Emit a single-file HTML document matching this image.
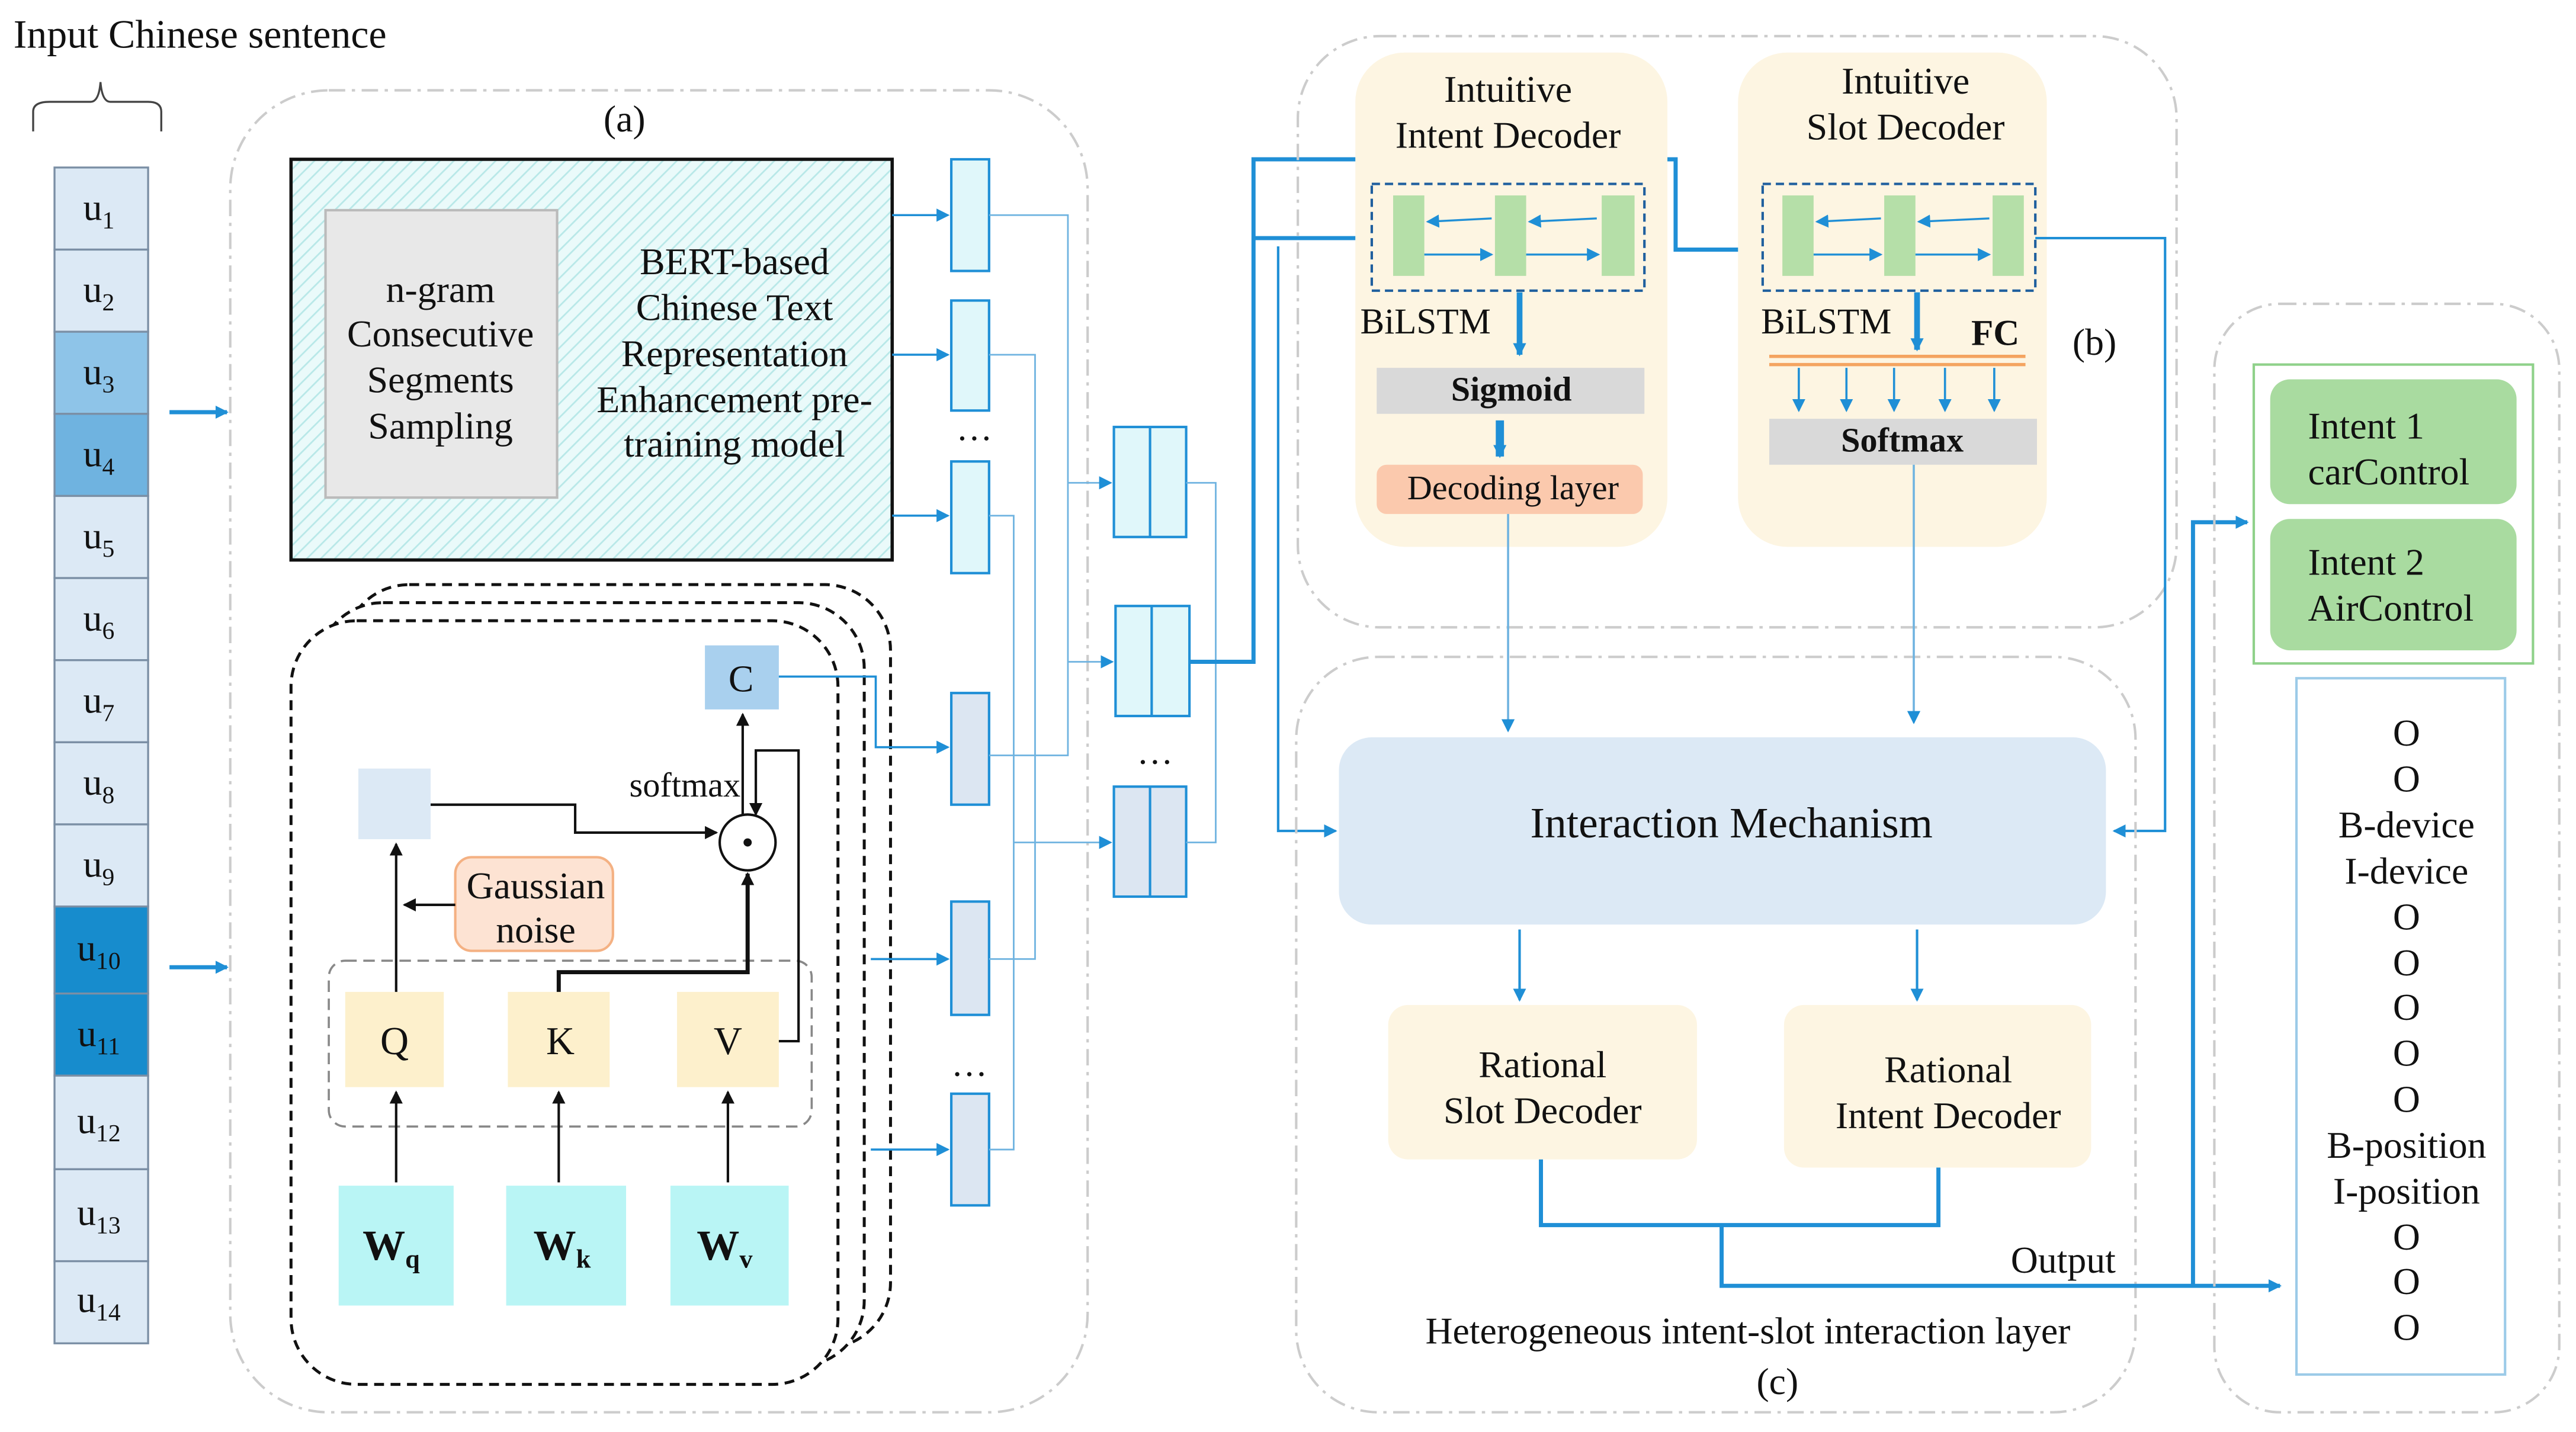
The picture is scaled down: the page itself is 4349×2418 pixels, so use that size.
<!DOCTYPE html>
<html><head><meta charset="utf-8"><style>
html,body{margin:0;padding:0;background:#fff}
svg{display:block}
text{font-family:"Liberation Serif",serif;fill:#111}
</style></head><body>
<svg width="4349" height="2418" viewBox="0 0 1568 872" xmlns="http://www.w3.org/2000/svg">
<defs>
<marker id="ab" markerWidth="8" markerHeight="8" refX="7" refY="4" orient="auto" markerUnits="userSpaceOnUse"><path d="M0,0 L8,4 L0,8 z" fill="#1f8fd6"/></marker>
<marker id="ak" markerWidth="8" markerHeight="8" refX="7" refY="4" orient="auto" markerUnits="userSpaceOnUse"><path d="M0,0 L8,4 L0,8 z" fill="#111"/></marker>
<pattern id="hatch" width="6" height="6" patternUnits="userSpaceOnUse" patternTransform="rotate(45)"><rect width="6" height="6" fill="#eafafa"/><line x1="0" y1="0" x2="0" y2="6" stroke="#b8e8e8" stroke-width="2"/></pattern>
</defs>
<rect width="1568" height="872" fill="#fff"/>

<text x="8" y="29" font-size="24.5">Input Chinese sentence</text>
<path d="M20,80 L20,68 Q20,62 30,62 L55,62 Q60,62 61,50 Q62,62 67,62 L90,62 Q98,62 98,68 L98,80" fill="none" stroke="#444" stroke-width="1.2"/>
<g stroke="#7b8fa5" stroke-width="1.2">
<rect x="33" y="102" width="57" height="50" fill="#dce9f5"/>
<rect x="33" y="152" width="57" height="50" fill="#dce9f5"/>
<rect x="33" y="202" width="57" height="50" fill="#8ec4e8"/>
<rect x="33" y="252" width="57" height="50" fill="#6fb3e0"/>
<rect x="33" y="302" width="57" height="50" fill="#dce9f5"/>
<rect x="33" y="352" width="57" height="50" fill="#dce9f5"/>
<rect x="33" y="402" width="57" height="50" fill="#dce9f5"/>
<rect x="33" y="452" width="57" height="50" fill="#dce9f5"/>
<rect x="33" y="502" width="57" height="50" fill="#dce9f5"/>
<rect x="33" y="552" width="57" height="53" fill="#178ccd"/>
<rect x="33" y="605" width="57" height="50" fill="#178ccd"/>
<rect x="33" y="655" width="57" height="57" fill="#dce9f5"/>
<rect x="33" y="712" width="57" height="56" fill="#dce9f5"/>
<rect x="33" y="768" width="57" height="50" fill="#dce9f5"/>
</g>
<g font-size="23" text-anchor="middle">
<text x="60" y="134">u<tspan font-size="15" dy="5">1</tspan></text>
<text x="60" y="184">u<tspan font-size="15" dy="5">2</tspan></text>
<text x="60" y="234">u<tspan font-size="15" dy="5">3</tspan></text>
<text x="60" y="284">u<tspan font-size="15" dy="5">4</tspan></text>
<text x="60" y="334">u<tspan font-size="15" dy="5">5</tspan></text>
<text x="60" y="384">u<tspan font-size="15" dy="5">6</tspan></text>
<text x="60" y="434">u<tspan font-size="15" dy="5">7</tspan></text>
<text x="60" y="484">u<tspan font-size="15" dy="5">8</tspan></text>
<text x="60" y="534">u<tspan font-size="15" dy="5">9</tspan></text>
<text x="60" y="585">u<tspan font-size="15" dy="5">10</tspan></text>
<text x="60" y="637">u<tspan font-size="15" dy="5">11</tspan></text>
<text x="60" y="690">u<tspan font-size="15" dy="5">12</tspan></text>
<text x="60" y="746">u<tspan font-size="15" dy="5">13</tspan></text>
<text x="60" y="799">u<tspan font-size="15" dy="5">14</tspan></text>
</g>
<line x1="103" y1="251" x2="138" y2="251" stroke="#1f8fd6" stroke-width="2.5" marker-end="url(#ab)"/>
<line x1="103" y1="589" x2="138" y2="589" stroke="#1f8fd6" stroke-width="2.5" marker-end="url(#ab)"/>

<rect x="140" y="55" width="522" height="805" rx="60" fill="none" stroke="#ccc" stroke-width="1.5" stroke-dasharray="10,4,2,4"/>
<text x="380" y="80" font-size="23" text-anchor="middle">(a)</text>
<rect x="177" y="97" width="366" height="244" fill="url(#hatch)" stroke="#111" stroke-width="2"/>
<rect x="198" y="128" width="141" height="175" fill="#e8e8e8" stroke="#bbb" stroke-width="1.5"/>
<g font-size="23" text-anchor="middle">
<text x="268" y="184">n-gram</text><text x="268" y="211">Consecutive</text><text x="268" y="239">Segments</text><text x="268" y="267">Sampling</text>
<text x="447" y="167">BERT-based</text><text x="447" y="195">Chinese Text</text><text x="447" y="223">Representation</text><text x="447" y="251">Enhancement pre-</text><text x="447" y="278">training model</text>
</g>
<rect x="209" y="356" width="333" height="465" rx="40" fill="#fff" stroke="#111" stroke-width="1.8" stroke-dasharray="6,4"/>
<rect x="193" y="367" width="333" height="465" rx="40" fill="#fff" stroke="#111" stroke-width="1.8" stroke-dasharray="6,4"/>
<rect x="177" y="378" width="333" height="465" rx="40" fill="#fff" stroke="#111" stroke-width="1.8" stroke-dasharray="6,4"/>
<rect x="200" y="585" width="294" height="101" rx="10" fill="none" stroke="#888" stroke-width="1.3" stroke-dasharray="7,4"/>
<rect x="429" y="393" width="45" height="39" fill="#a9d0ee"/>
<text x="451" y="421" font-size="23" text-anchor="middle">C</text>
<rect x="218" y="468" width="44" height="43" fill="#dce9f5"/>
<text x="383" y="485" font-size="21">softmax</text>
<circle cx="455" cy="513" r="17" fill="#fff" stroke="#111" stroke-width="1.5"/>
<circle cx="455" cy="513" r="2.5" fill="#111"/>
<rect x="277" y="522" width="96" height="57" rx="10" fill="#fde3d3" stroke="#f4b183" stroke-width="1.5"/>
<text x="326" y="547" font-size="23" text-anchor="middle">Gaussian</text>
<text x="326" y="574" font-size="23" text-anchor="middle">noise</text>
<rect x="210" y="604" width="60" height="58" fill="#fdf0cc"/>
<rect x="309" y="604" width="62" height="58" fill="#fdf0cc"/>
<rect x="412" y="604" width="62" height="58" fill="#fdf0cc"/>
<g font-size="24" text-anchor="middle"><text x="240" y="642">Q</text><text x="341" y="642">K</text><text x="443" y="642">V</text></g>
<rect x="206" y="722" width="70" height="73" fill="#b9f5f5"/>
<rect x="308" y="722" width="73" height="73" fill="#b9f5f5"/>
<rect x="408" y="722" width="72" height="73" fill="#b9f5f5"/>
<g font-size="26" font-weight="bold" text-anchor="middle"><text x="238" y="767">W<tspan font-size="16" dy="5">q</tspan></text><text x="342" y="767">W<tspan font-size="16" dy="5">k</tspan></text><text x="441" y="767">W<tspan font-size="16" dy="5">v</tspan></text></g>
<g stroke="#111" stroke-width="1.5" fill="none">
<line x1="241" y1="720" x2="241" y2="665" marker-end="url(#ak)"/>
<line x1="340" y1="720" x2="340" y2="665" marker-end="url(#ak)"/>
<line x1="443" y1="720" x2="443" y2="665" marker-end="url(#ak)"/>
<line x1="241" y1="604" x2="241" y2="514" marker-end="url(#ak)"/>
<line x1="277" y1="551" x2="246" y2="551" marker-end="url(#ak)"/>
<polyline points="262,490 350,490 350,507 436,507" marker-end="url(#ak)"/>
<polyline points="340,604 340,592 455,592 455,532" stroke-width="2.5" marker-end="url(#ak)"/>
<polyline points="474,634 486,634 486,457 460,457 460,496" marker-end="url(#ak)"/>
<line x1="452" y1="496" x2="452" y2="435" marker-end="url(#ak)"/>
</g>

<g stroke="#1f8fd6" stroke-width="1.5">
<rect x="579" y="97" width="23" height="68" fill="#e0f7fa"/>
<rect x="579" y="183" width="23" height="67" fill="#e0f7fa"/>
<rect x="579" y="281" width="23" height="68" fill="#e0f7fa"/>
<rect x="579" y="422" width="23" height="68" fill="#dce6f2"/>
<rect x="579" y="549" width="23" height="69" fill="#dce6f2"/>
<rect x="579" y="666" width="23" height="68" fill="#dce6f2"/>
<rect x="678" y="260" width="44" height="67" fill="#e0f7fa"/><line x1="700" y1="260" x2="700" y2="327"/>
<rect x="679" y="369" width="45" height="67" fill="#e0f7fa"/><line x1="701" y1="369" x2="701" y2="436"/>
<rect x="678" y="479" width="44" height="67" fill="#dce6f2"/><line x1="700" y1="479" x2="700" y2="546"/>
</g>
<text x="593" y="268" font-size="22" text-anchor="middle">…</text>
<text x="590" y="655" font-size="22" text-anchor="middle">…</text>
<text x="703" y="465" font-size="22" text-anchor="middle">…</text>
<g stroke="#1f8fd6" stroke-width="1.3" fill="none">
<line x1="543" y1="131" x2="577" y2="131" marker-end="url(#ab)"/>
<line x1="543" y1="216" x2="577" y2="216" marker-end="url(#ab)"/>
<line x1="543" y1="314" x2="577" y2="314" marker-end="url(#ab)"/>
<polyline points="474,412 533,412 533,455 577,455" marker-end="url(#ab)"/>
<line x1="530" y1="584" x2="577" y2="584" marker-end="url(#ab)"/>
<line x1="530" y1="700" x2="577" y2="700" marker-end="url(#ab)"/>
</g>
<g stroke="#6fb3e0" stroke-width="1" fill="none">
<polyline points="602,131 650,131 650,460 602,460"/>
<polyline points="602,216 630,216 630,584 602,584"/>
<polyline points="602,314 617,314 617,700 602,700"/>
<line x1="650" y1="294" x2="676" y2="294" marker-end="url(#ab)"/>
<line x1="650" y1="403" x2="677" y2="403" marker-end="url(#ab)"/>
<line x1="617" y1="513" x2="676" y2="513" marker-end="url(#ab)"/>
<polyline points="722,294 740,294 740,513 722,513"/>
</g>
<g stroke="#1f8fd6" stroke-width="2.5" fill="none">
<polyline points="724,403 763,403 763,97 1020,97 1020,152 1066,152" marker-end="url(#ab)"/>
<line x1="763" y1="145" x2="833" y2="145" marker-end="url(#ab)"/>
</g>
<polyline points="778,150 778,506 813,506" stroke="#1f8fd6" stroke-width="1.5" fill="none" marker-end="url(#ab)"/>

<rect x="790" y="22" width="535" height="360" rx="50" fill="none" stroke="#ccc" stroke-width="1.5" stroke-dasharray="10,4,2,4"/>
<text x="1275" y="216" font-size="23" text-anchor="middle">(b)</text>
<rect x="825" y="32" width="190" height="301" rx="30" fill="#fdf5e2"/>
<rect x="1058" y="32" width="188" height="301" rx="30" fill="#fdf5e2"/>
<g font-size="23" text-anchor="middle">
<text x="918" y="62">Intuitive</text><text x="918" y="90">Intent Decoder</text>
<text x="1160" y="57">Intuitive</text><text x="1160" y="85">Slot Decoder</text>
</g>
<rect x="835" y="112" width="166" height="65" fill="none" stroke="#1f5f9e" stroke-width="1.5" stroke-dasharray="5,3"/>
<rect x="1073" y="112" width="166" height="65" fill="none" stroke="#1f5f9e" stroke-width="1.5" stroke-dasharray="5,3"/>
<g fill="#b5dfa8">
<rect x="848" y="119" width="19" height="49"/><rect x="910" y="119" width="19" height="49"/><rect x="975" y="119" width="20" height="49"/>
<rect x="1085" y="119" width="19" height="49"/><rect x="1147" y="119" width="19" height="49"/><rect x="1213" y="119" width="19" height="49"/>
</g>
<g stroke="#1f8fd6" stroke-width="1.2">
<line x1="908" y1="133" x2="869" y2="135" marker-end="url(#ab)"/>
<line x1="972" y1="133" x2="931" y2="135" marker-end="url(#ab)"/>
<line x1="867" y1="155" x2="908" y2="155" marker-end="url(#ab)"/>
<line x1="929" y1="155" x2="973" y2="155" marker-end="url(#ab)"/>
<line x1="1145" y1="133" x2="1106" y2="135" marker-end="url(#ab)"/>
<line x1="1211" y1="133" x2="1168" y2="135" marker-end="url(#ab)"/>
<line x1="1104" y1="155" x2="1145" y2="155" marker-end="url(#ab)"/>
<line x1="1166" y1="155" x2="1211" y2="155" marker-end="url(#ab)"/>
</g>
<text x="828" y="203" font-size="22">BiLSTM</text>
<text x="1072" y="203" font-size="22">BiLSTM</text>
<text x="1200" y="210" font-size="22" font-weight="bold">FC</text>
<line x1="925" y1="178" x2="925" y2="216" stroke="#1f8fd6" stroke-width="3.5" marker-end="url(#ab)"/>
<line x1="1167" y1="178" x2="1167" y2="213" stroke="#1f8fd6" stroke-width="3.5" marker-end="url(#ab)"/>
<rect x="838" y="224" width="163" height="28" fill="#d9d9d9"/>
<text x="920" y="244" font-size="21" font-weight="bold" text-anchor="middle">Sigmoid</text>
<line x1="913" y1="256" x2="913" y2="278" stroke="#1f8fd6" stroke-width="5" marker-end="url(#ab)"/>
<rect x="838" y="283" width="162" height="30" rx="6" fill="#fbc9ad"/>
<text x="921" y="304" font-size="21" text-anchor="middle">Decoding layer</text>
<line x1="1077" y1="217" x2="1233" y2="217" stroke="#f4a460" stroke-width="2"/>
<line x1="1077" y1="222" x2="1233" y2="222" stroke="#f4a460" stroke-width="2"/>
<g stroke="#1f8fd6" stroke-width="1.3">
<line x1="1095" y1="224" x2="1095" y2="250" marker-end="url(#ab)"/>
<line x1="1124" y1="224" x2="1124" y2="250" marker-end="url(#ab)"/>
<line x1="1153" y1="224" x2="1153" y2="250" marker-end="url(#ab)"/>
<line x1="1184" y1="224" x2="1184" y2="250" marker-end="url(#ab)"/>
<line x1="1214" y1="224" x2="1214" y2="250" marker-end="url(#ab)"/>
</g>
<rect x="1077" y="255" width="163" height="28" fill="#d9d9d9"/>
<text x="1158" y="275" font-size="21" font-weight="bold" text-anchor="middle">Softmax</text>
<polyline points="1239,145 1318,145 1318,506 1287,506" stroke="#1f8fd6" stroke-width="1.5" fill="none" marker-end="url(#ab)"/>

<rect x="789" y="400" width="511" height="460" rx="50" fill="none" stroke="#ccc" stroke-width="1.5" stroke-dasharray="10,4,2,4"/>
<rect x="815" y="449" width="467" height="114" rx="20" fill="#dce9f5"/>
<text x="1054" y="510" font-size="26.5" text-anchor="middle">Interaction Mechanism</text>
<g stroke="#6fb3e0" stroke-width="1.3">
<line x1="918" y1="313" x2="918" y2="445" marker-end="url(#ab)"/>
<line x1="1165" y1="283" x2="1165" y2="440" marker-end="url(#ab)"/>
</g>
<g stroke="#1f8fd6" stroke-width="1.5">
<line x1="925" y1="566" x2="925" y2="609" marker-end="url(#ab)"/>
<line x1="1167" y1="566" x2="1167" y2="609" marker-end="url(#ab)"/>
</g>
<rect x="845" y="612" width="188" height="94" rx="12" fill="#fdf5e2"/>
<rect x="1086" y="612" width="187" height="99" rx="12" fill="#fdf5e2"/>
<g font-size="23" text-anchor="middle">
<text x="939" y="656">Rational</text><text x="939" y="684">Slot Decoder</text>
<text x="1186" y="659">Rational</text><text x="1186" y="687">Intent Decoder</text>
<text x="1064" y="818">Heterogeneous intent-slot interaction layer</text>
<text x="1082" y="849">(c)</text>
<text x="1256" y="775">Output</text>
</g>
<g stroke="#1f8fd6" stroke-width="2.5" fill="none">
<polyline points="938,706 938,746 1180,746 1180,711"/>
<polyline points="1048,746 1048,783 1388,783" marker-end="url(#ab)"/>
<polyline points="1335,783 1335,318 1368,318" marker-end="url(#ab)"/>
</g>

<rect x="1348" y="185" width="210" height="675" rx="40" fill="none" stroke="#ccc" stroke-width="1.5" stroke-dasharray="10,4,2,4"/>
<rect x="1372" y="222" width="170" height="182" fill="none" stroke="#8fd18a" stroke-width="1.5"/>
<rect x="1382" y="231" width="150" height="76" rx="12" fill="#a9dba0"/>
<rect x="1382" y="316" width="150" height="80" rx="12" fill="#a9dba0"/>
<g font-size="23">
<text x="1405" y="267">Intent 1</text><text x="1405" y="295">carControl</text>
<text x="1405" y="350">Intent 2</text><text x="1405" y="378">AirControl</text>
</g>
<rect x="1398" y="413" width="127" height="424" fill="none" stroke="#9ccbe8" stroke-width="1.5"/>
<g font-size="23" text-anchor="middle">
<text x="1465" y="454">O</text><text x="1465" y="482">O</text><text x="1465" y="510">B-device</text><text x="1465" y="538">I-device</text>
<text x="1465" y="566">O</text><text x="1465" y="594">O</text><text x="1465" y="621">O</text><text x="1465" y="649">O</text><text x="1465" y="677">O</text>
<text x="1465" y="705">B-position</text><text x="1465" y="733">I-position</text><text x="1465" y="761">O</text><text x="1465" y="788">O</text><text x="1465" y="816">O</text>
</g>
</svg>
</body></html>
